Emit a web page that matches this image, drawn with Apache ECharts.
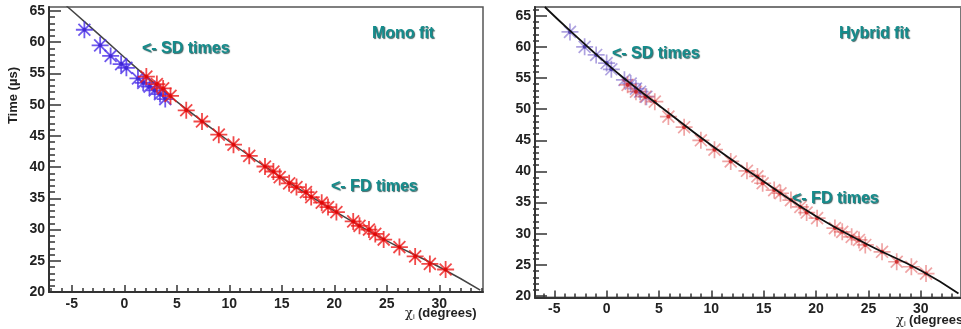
<!DOCTYPE html>
<html><head><meta charset="utf-8">
<script src="https://cdn.jsdelivr.net/npm/echarts@6/dist/echarts.min.js"></script>
<style>html,body{margin:0;padding:0;background:#fff}#c{width:961px;height:329px}</style>
</head><body><div id="c"></div>
<script>
// ---- data ----
var xMajorTicks = [-5, 0, 5, 10, 15, 20, 25, 30];
var xMinorTicksL = [-7,-6,-4,-3,-2,-1,1,2,3,4,6,7,8,9,11,12,13,14,16,17,18,19,21,22,23,24,26,27,28,29,31,32,33,34];
var xMinorTicksR = [-6,-4,-3,-2,-1,1,2,3,4,6,7,8,9,11,12,13,14,16,17,18,19,21,22,23,24,26,27,28,29,31,32,33];
var yMajorTicks = [20, 25, 30, 35, 40, 45, 50, 55, 60, 65];
var yMinorTicksL = [21,22,23,24,26,27,28,29,31,32,33,34,36,37,38,39,41,42,43,44,46,47,48,49,51,52,53,54,56,57,58,59,61,62,63,64];
var yMinorTicksR = [21,22,23,24,26,27,28,29,31,32,33,34,36,37,38,39,41,42,43,44,46,47,48,49,51,52,53,54,56,57,58,59,61,62,63,64,66];

var monoSD = [[-3.8,62.0],[-2.3,59.5],[-1.3,57.8],[-0.3,56.5],[0.2,55.9],[1.3,54.2],[1.8,53.5],[2.4,52.9],[2.9,52.3],[3.4,51.7],[3.9,50.9]];
var monoFD = [[2.1,54.5],[3.1,53.3],[3.7,52.6],[4.4,51.4],[5.9,49.1],[7.4,47.3],[9.0,45.2],[10.4,43.6],[11.9,41.8],[13.4,40.1],[14.2,39.3],[14.8,38.4],[15.7,37.4],[16.4,36.8],[17.3,36.0],[17.8,35.2],[18.8,34.3],[19.4,33.6],[20.2,32.8],[21.8,31.3],[22.4,30.6],[23.3,30.0],[23.9,29.3],[24.7,28.4],[26.2,27.2],[27.7,25.7],[29.1,24.5],[30.6,23.6]];
var monoFit = [[-5.5,65.8],[-3.8,63.3],[0,57.6],[2.1,54.5],[5,50.5],[10,44.1],[15,38.3],[20,33.0],[25,28.2],[30,24.0],[33.9,20.3]];

var hybSD = [[-3.5,62.4],[-2.1,60.0],[-1.0,58.7],[0.0,57.4],[0.45,56.4],[1.7,54.7],[2.3,54.1],[2.8,53.3],[3.2,52.8],[3.8,52.0]];
var hybFD = [[2.0,53.9],[2.8,52.8],[3.7,52.0],[4.6,51.2],[5.9,48.8],[7.4,47.1],[9.0,45.0],[10.3,43.5],[11.85,41.6],[13.4,40.1],[14.4,39.2],[14.9,38.1],[16.0,37.0],[16.6,36.5],[17.6,35.4],[18.5,34.3],[19.1,33.4],[20.1,32.5],[21.8,30.9],[22.5,30.3],[23.4,29.5],[24.1,29.0],[24.7,28.2],[26.3,27.1],[27.7,25.5],[29.1,24.7],[30.5,23.6]];
var hybFit = [[-5.9,66.4],[-3.5,62.6],[0,57.3],[2,54.5],[5,50.6],[10,44.2],[15,38.4],[20,32.8],[25,28.2],[30,24.1],[33.6,20.4]];

// ---- chart ----
var STAR = 'path://M10,0L10,20M0,10L20,10M3,3L17,17M3,17L17,3';
var FONT = '"Liberation Sans Narrow","Liberation Sans",Arial,sans-serif';
var labelStyle = {color:'#222', fontFamily:FONT, fontWeight:'bold', fontSize:14};
var G = [{left:49, top:7, width:434, height:285}, {left:535, top:7, width:428, height:290.5}];

function xAxes(gi, min, max, minor) {
  return [
    {type:'value', gridIndex:gi, min:min, max:max, position:'bottom',
     axisLine:{show:true, onZero:false, lineStyle:{color:'#333', width:2}},
     axisTick:{show:true, inside:true, length:7, customValues:xMajorTicks, lineStyle:{color:'#333', width:1.5}},
     axisLabel:Object.assign({show:true, margin:5, customValues:xMajorTicks}, labelStyle),
     splitLine:{show:false}},
    {type:'value', gridIndex:gi, min:min, max:max, position:'top', offset:-G[gi].height,
     axisLine:{show:false, onZero:false},
     axisTick:{show:true, inside:false, length:4, customValues:minor, lineStyle:{color:'#333', width:1.5}},
     axisLabel:{show:false}, splitLine:{show:false}}
  ];
}
function yAxes(gi, min, max, minor) {
  return [
    {type:'value', gridIndex:gi, min:min, max:max, position:'left',
     axisLine:{show:true, onZero:false, lineStyle:{color:'#333', width:2}},
     axisTick:{show:true, inside:true, length:12, customValues:yMajorTicks, lineStyle:{color:'#333', width:1.5}},
     axisLabel:Object.assign({show:true, margin:4, customValues:yMajorTicks}, labelStyle),
     splitLine:{show:false}},
    {type:'value', gridIndex:gi, min:min, max:max, position:'right', offset:-G[gi].width,
     axisLine:{show:false, onZero:false},
     axisTick:{show:true, inside:false, length:6, customValues:minor, lineStyle:{color:'#333', width:1.5}},
     axisLabel:{show:false}, splitLine:{show:false}}
  ];
}
function stars(xi, yi, data, color, dot, z, w) {
  return [
    {type:'scatter', xAxisIndex:xi, yAxisIndex:yi, data:data, symbol:STAR, symbolSize:17, z:z,
     itemStyle:{color:'transparent', borderColor:color, borderWidth:w}, silent:true},
    {type:'scatter', xAxisIndex:xi, yAxisIndex:yi, data:data, symbol:'circle', symbolSize:4, z:z,
     itemStyle:{color:dot}, silent:true}
  ];
}
function annot(x, y, text, size) {
  return {type:'text', left:x, top:y, z:100, style:{text:text, fill:'#148c8c', font:'bold '+(size||16)+'px "Liberation Sans",Arial,sans-serif',
    textShadowColor:'rgba(0,50,50,0.75)', textShadowOffsetX:1, textShadowOffsetY:1, textShadowBlur:1}};
}
function xTitle(x, y) {
  return {type:'text', left:x, top:y, z:100, style:{
    text:'{g|χ}{s|i} {t|(degrees)}',
    rich:{g:{fontFamily:'"DejaVu Serif",serif', fontSize:13, fill:'#222'},
          s:{fontFamily:FONT, fontSize:8, fill:'#222', padding:[6,0,0,0]},
          t:{fontFamily:FONT, fontWeight:'bold', fontSize:13, fill:'#222'}}}};
}

var option = {
  animation:false,
  backgroundColor:'#fff',
  grid:[
    Object.assign({show:true, borderColor:'#555', borderWidth:1.5, backgroundColor:'transparent'}, G[0]),
    Object.assign({show:true, borderColor:'#777', borderWidth:2, backgroundColor:'transparent'}, G[1])
  ],
  xAxis: xAxes(0, -7.17, 34.16, xMinorTicksL).concat(xAxes(1, -6.84, 33.84, xMinorTicksR)),
  yAxis: yAxes(0, 20, 65.64, yMinorTicksL).concat(yAxes(1, 19.76, 66.4, yMinorTicksR)),
  series: [
    {type:'line', xAxisIndex:0, yAxisIndex:0, data:monoFit, smooth:true, showSymbol:false, z:2,
     lineStyle:{color:'#444', width:1.5}, silent:true}
  ].concat(stars(0,0,monoSD,'#4a2ee8','#3a20d0',3,1.8))
   .concat(stars(0,0,monoFD,'#ee1c1c','#e00000',4,1.8))
   .concat(stars(2,2,hybSD,'rgba(110,90,200,0.7)','#3a2aa0',3,1.7))
   .concat(stars(2,2,hybFD,'rgba(225,80,80,0.65)','#c81818',3,1.7))
   .concat([
    {type:'line', xAxisIndex:2, yAxisIndex:2, data:hybFit, smooth:true, showSymbol:false, z:6,
     lineStyle:{color:'#111', width:1.8}, silent:true}
   ]),
  graphic:[
    annot(142, 41, '<- SD times'),
    annot(331, 179, '<- FD times'),
    annot(372, 26, 'Mono fit'),
    annot(612, 46, '<- SD times'),
    annot(792, 191, '<- FD times'),
    annot(839, 26, 'Hybrid fit'),
    xTitle(405, 307),
    xTitle(896, 314),
    {type:'text', left:7, top:67, rotation:Math.PI/2, z:100,
     style:{text:'Time (µs)', fill:'#222', font:'bold 13px '+FONT}}
  ]
};
var chart = echarts.init(document.getElementById('c'), null, {renderer:'canvas'});
chart.setOption(option);
</script></body></html>
